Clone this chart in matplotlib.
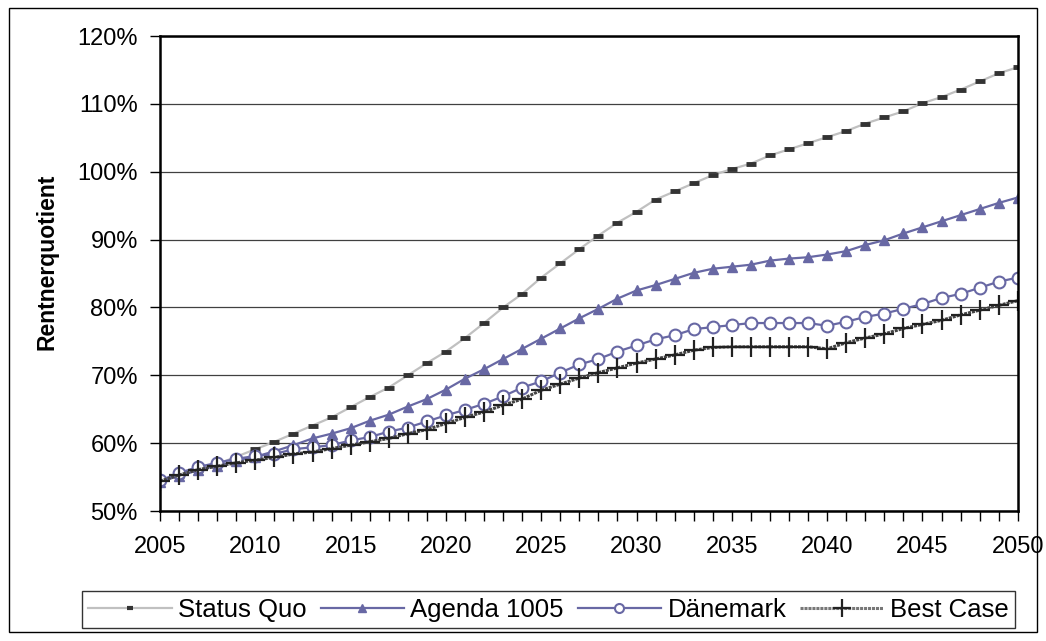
import numpy as np
import matplotlib
matplotlib.use("Agg")
import matplotlib.pyplot as plt
from matplotlib.ticker import MultipleLocator, FuncFormatter
from matplotlib.patches import Rectangle

plt.rcParams['font.family'] = ['Liberation Sans', 'DejaVu Sans']

# data (Rentnerquotient in %)
years = list(range(2005, 2051))

status_quo = [54.3, 55.2, 56.1, 56.9, 58.0, 59.1, 60.2, 61.4, 62.6, 63.8,
              65.3, 66.8, 68.2, 70.0, 71.8, 73.5, 75.5, 77.7, 80.0, 82.0,
              84.4, 86.5, 88.6, 90.6, 92.5, 94.1, 95.9, 97.1, 98.3, 99.5,
              100.4, 101.2, 102.4, 103.3, 104.2, 105.1, 106.0, 107.1, 108.0, 108.9,
              110.1, 111.0, 112.1, 113.3, 114.5, 115.4]

agenda = [54.3, 55.2, 56.0, 56.7, 57.4, 58.0, 58.8, 59.7, 60.7, 61.4,
          62.2, 63.3, 64.2, 65.4, 66.5, 67.9, 69.5, 70.9, 72.4, 73.9,
          75.4, 76.9, 78.4, 79.8, 81.3, 82.5, 83.3, 84.2, 85.1, 85.7,
          86.0, 86.3, 86.9, 87.2, 87.4, 87.8, 88.3, 89.2, 89.9, 90.9,
          91.8, 92.7, 93.6, 94.5, 95.4, 96.2]

daenemark = [54.5, 55.6, 56.5, 57.1, 57.7, 58.1, 58.4, 59.1, 59.4, 59.7,
             60.4, 60.9, 61.7, 62.3, 63.2, 64.1, 64.9, 65.8, 66.9, 68.2,
             69.1, 70.4, 71.6, 72.4, 73.5, 74.4, 75.3, 75.9, 76.8, 77.1,
             77.4, 77.7, 77.7, 77.7, 77.7, 77.3, 77.9, 78.6, 79.1, 79.8,
             80.5, 81.4, 82.0, 82.9, 83.8, 84.4]

best_case = [54.4, 55.3, 56.1, 56.6, 57.1, 57.5, 57.9, 58.4, 58.7, 59.2,
             59.7, 60.2, 60.7, 61.4, 62.0, 62.9, 63.8, 64.6, 65.6, 66.5,
             67.8, 68.7, 69.6, 70.4, 71.1, 71.8, 72.4, 73.0, 73.7, 74.1,
             74.2, 74.2, 74.2, 74.2, 74.2, 73.9, 74.8, 75.5, 76.1, 76.9,
             77.5, 78.1, 78.9, 79.6, 80.3, 81.0]

labels = ['Status Quo', 'Agenda 1005', 'Dänemark', 'Best Case']

purple = '#6868a4'

fig = plt.figure(figsize=(10.46, 6.41), dpi=100)
ax = fig.add_axes([0.153, 0.2028, 0.82, 0.741])

ax.plot(years, status_quo, color='#c0c0c0', lw=1.6, marker='_', ms=7,
        mew=3.5, mec='#333333', label=labels[0])
ax.plot(years, agenda, color=purple, lw=1.6, marker='^', ms=7,
        mfc=purple, mec=purple, label=labels[1])
ax.plot(years, daenemark, color=purple, lw=1.6, marker='o', ms=8.5,
        mfc='white', mec=purple, mew=1.5, label=labels[2])
ax.plot(years, best_case, color='#444444', lw=2.2, ls=(0, (1, 0.3)),
        marker='+', ms=14, mew=1.6, mec='#222222', label=labels[3])

ax.set_xlim(2005, 2050)
ax.set_ylim(50, 120)
ax.yaxis.set_major_locator(MultipleLocator(10))
ax.yaxis.set_major_formatter(FuncFormatter(lambda v, p: f"{v:.0f}%"))
ax.xaxis.set_major_locator(MultipleLocator(5))
ax.xaxis.set_minor_locator(MultipleLocator(1))

ax.grid(axis='y', color='#404040', lw=0.9)
ax.set_axisbelow(True)
for s in ax.spines.values():
    s.set_linewidth(1.8)
    s.set_color('black')

ax.tick_params(axis='both', which='both', direction='out', length=7,
               width=1, labelsize=17, color='black')
ax.tick_params(axis='x', pad=11)
ax.tick_params(axis='y', pad=9)

ax.set_ylabel('Rentnerquotient', fontsize=16.5, fontweight='bold')
ax.yaxis.set_label_coords(-0.118, 0.524)

leg = fig.legend(loc='lower left', bbox_to_anchor=(0.0784, 0.0203, 0.892, 0.070),
                 mode='expand', ncol=4, fontsize=18.5, frameon=True,
                 fancybox=False, handlelength=3.25, handletextpad=0.25,
                 columnspacing=0.3, borderaxespad=0, borderpad=0.25)
leg.get_frame().set_edgecolor('black')
leg.get_frame().set_linewidth(1.0)
# smaller markers in the legend, as in the original
for h, ms in zip(leg.legend_handles, [5, 6, 6.5, 13]):
    h.set_markersize(ms)
leg.legend_handles[0].set_markeredgewidth(3)
leg.legend_handles[3].set_color('#777777')

fig.patches.append(Rectangle((9 / 1046, 1 - 632 / 641), 1028 / 1046, 624 / 641,
                             transform=fig.transFigure, fill=False,
                             edgecolor='black', lw=1.0))

fig.savefig('out.png', dpi=100)
